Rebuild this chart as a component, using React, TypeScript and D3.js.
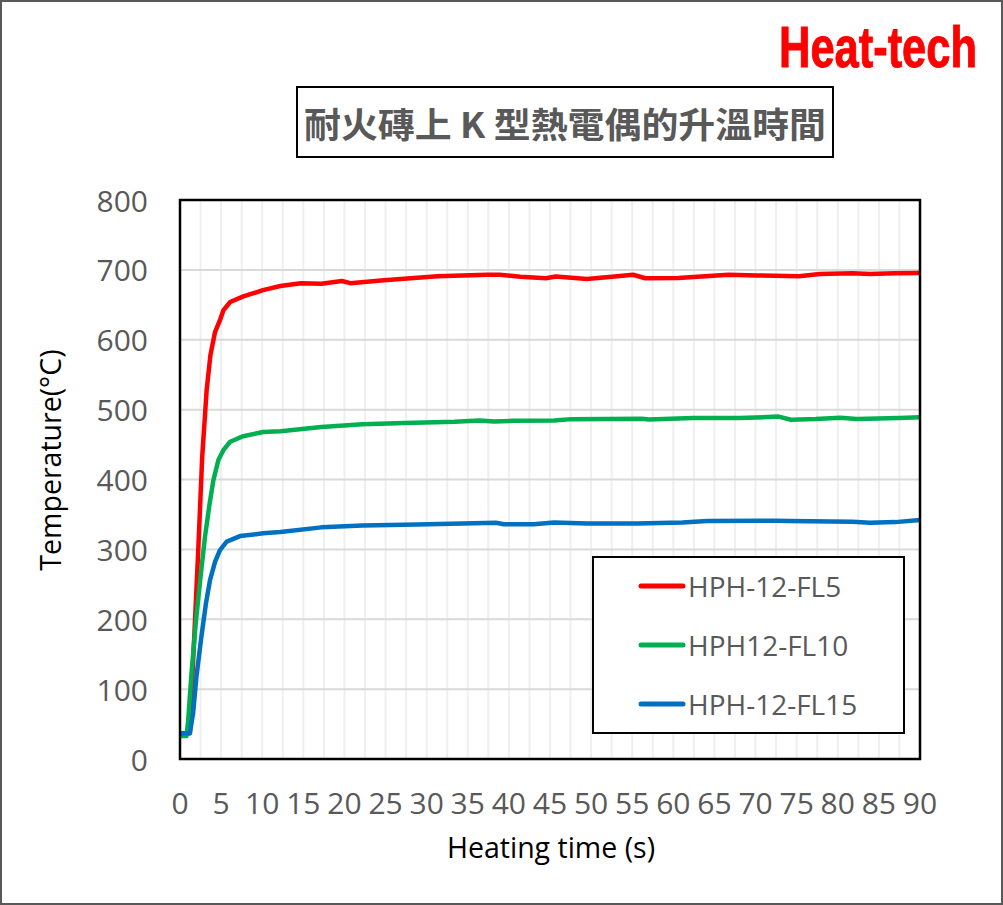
import React from "react";
import * as d3 from "d3";

// readings: [time s, temperature °C]
const fl5: [number, number][] = [
  [0, 36], [0.5, 36], [1.2, 37], [1.6, 141], [2.2, 294], [2.7, 432], [3.24, 528], [3.7, 578],
  [4.26, 611], [4.86, 628], [5.27, 642], [6.1, 654], [7.7, 662], [10.1, 671], [12.2, 677],
  [14.7, 681], [17.2, 680], [19.7, 684], [20.7, 681], [24.8, 685], [31.3, 691], [37.4, 693],
  [38.9, 693], [41.4, 690], [44.5, 688], [45.7, 690.5], [49.5, 687], [52.5, 690], [55.1, 693],
  [56.6, 688], [60.6, 688.5], [66.7, 693], [70.2, 692], [75.3, 691], [77.8, 694], [81.8, 695],
  [83.9, 694], [86.9, 695], [90, 695.5],
];
const fl10: [number, number][] = [
  [0, 33], [0.8, 33], [1.0, 56], [1.4, 123], [1.95, 199], [2.5, 261], [3.04, 318], [3.57, 363],
  [4.06, 399], [4.67, 428], [5.27, 442], [6.1, 454], [7.7, 462], [10.1, 468], [12.2, 469],
  [17.2, 475], [22.2, 479], [27.3, 481], [33.4, 482.6], [36.4, 484.5], [38.2, 483], [40.5, 484],
  [45.5, 484.5], [47.6, 486.4], [56.2, 487], [57, 486], [62.4, 488], [68, 488], [72.8, 490],
  [74.3, 485.5], [77.3, 486.5], [80.3, 488.5], [82.3, 486.5], [87.4, 488], [90, 489],
];
const fl15: [number, number][] = [
  [0, 37], [1.2, 37], [1.6, 66], [2.0, 118], [2.6, 175], [3.16, 223], [3.65, 256], [4.26, 282],
  [4.86, 299], [5.68, 311], [7.3, 319], [10.1, 323], [12.2, 325], [17.2, 331.5], [22.2, 334],
  [28.8, 335.7], [34.4, 337], [38.4, 338], [39.4, 336], [43, 336], [45.5, 338.5], [49.5, 337],
  [55.6, 337], [61.1, 338.5], [64.1, 340.5], [72.7, 341], [74, 340.5], [81.8, 339.5],
  [83.9, 338], [87, 339], [90, 342],
];

const seriesNames = ["HPH-12-FL5", "HPH12-FL10", "HPH-12-FL15"];
const seriesColors = ["#ff0000", "#00b050", "#0070c0"];
const xTicks = d3.range(0, 91, 5);
const xGrid = d3.range(0, 90.1, 2.5);
const yTicks = d3.range(0, 801, 100);

const W = 1003;
const H = 905;
const left = 180, right = 920, top = 200, bottom = 759;

export default function App() {
  const x = d3.scaleLinear().domain([0, 90]).range([left, right]);
  const y = d3.scaleLinear().domain([0, 800]).range([bottom, top]);
  const line = d3.line<[number, number]>().x(d => x(d[0])).y(d => y(d[1]));
  const all = [fl5, fl10, fl15];
  const font = "'Open Sans', sans-serif";

  return (
    <svg width={W} height={H} style={{ position: "absolute", left: 0, top: 0, background: "#fff" }}>
      <rect x={1} y={1} width={W - 2} height={H - 2} fill="#fff" stroke="#595959" strokeWidth={2} />

      {/* logo */}
      <text x={977} y={67} textAnchor="end"
        fontFamily="'Liberation Sans Narrow', 'Liberation Sans', sans-serif"
        fontWeight="bold" fontSize={57} fill="#ff0000" stroke="#ff0000" strokeWidth={1}
        textLength={198} lengthAdjust="spacingAndGlyphs">
        Heat-tech
      </text>

      {/* title */}
      <rect x={297} y={87} width={536} height={70} fill="#fff" stroke="#000" strokeWidth={2} />
      <text x={565} y={122} textAnchor="middle" dominantBaseline="central"
        fontFamily="'Noto Sans CJK TC', 'Noto Sans CJK SC', sans-serif" fontWeight="bold"
        fontSize={35} fill="#595959" textLength={522} lengthAdjust="spacingAndGlyphs">
        耐火磚上 K 型熱電偶的升溫時間
      </text>

      {/* grid */}
      {xGrid.map(t => (
        <line key={"vx" + t} x1={x(t)} x2={x(t)} y1={top} y2={bottom} stroke="#efefef" strokeWidth={2} />
      ))}
      {yTicks.map(v => (
        <line key={"hy" + v} x1={left} x2={right} y1={y(v)} y2={y(v)} stroke="#d9d9d9" strokeWidth={2} />
      ))}

      {/* series */}
      {all.map((s, i) => (
        <path key={seriesNames[i]} d={line(s) || ""} fill="none" stroke={seriesColors[i]}
          strokeWidth={4.5} strokeLinejoin="round" />
      ))}

      <rect x={left} y={top} width={right - left} height={bottom - top} fill="none" stroke="#000" strokeWidth={2.5} />

      {/* ticks */}
      {yTicks.map(v => (
        <text key={"yt" + v} x={148} y={y(v)} textAnchor="end" dominantBaseline="central"
          fontFamily={font} fontSize={30} fill="#595959">{v}</text>
      ))}
      {xTicks.map(t => (
        <text key={"xt" + t} x={x(t)} y={802} textAnchor="middle" dominantBaseline="central"
          fontFamily={font} fontSize={30} fill="#595959">{t}</text>
      ))}

      {/* axis titles */}
      <text transform="translate(50,460) rotate(-90)" textAnchor="middle" dominantBaseline="central"
        fontFamily={font} fontSize={28.5} fill="#000">Temperature(°C)</text>
      <text x={551} y={847} textAnchor="middle" dominantBaseline="central"
        fontFamily={font} fontSize={28.5} fill="#000">Heating time (s)</text>

      {/* legend */}
      <rect x={593} y={557} width={311} height={176} fill="#fff" stroke="#000" strokeWidth={2} />
      {seriesNames.map((n, i) => {
        const ly = 586 + i * 59;
        return (
          <g key={"lg" + n}>
            <line x1={641} x2={683} y1={ly} y2={ly} stroke={seriesColors[i]} strokeWidth={5} strokeLinecap="round" />
            <text x={688} y={ly} dominantBaseline="central" fontFamily={font} fontSize={28} fill="#595959">{n}</text>
          </g>
        );
      })}
    </svg>
  );
}
